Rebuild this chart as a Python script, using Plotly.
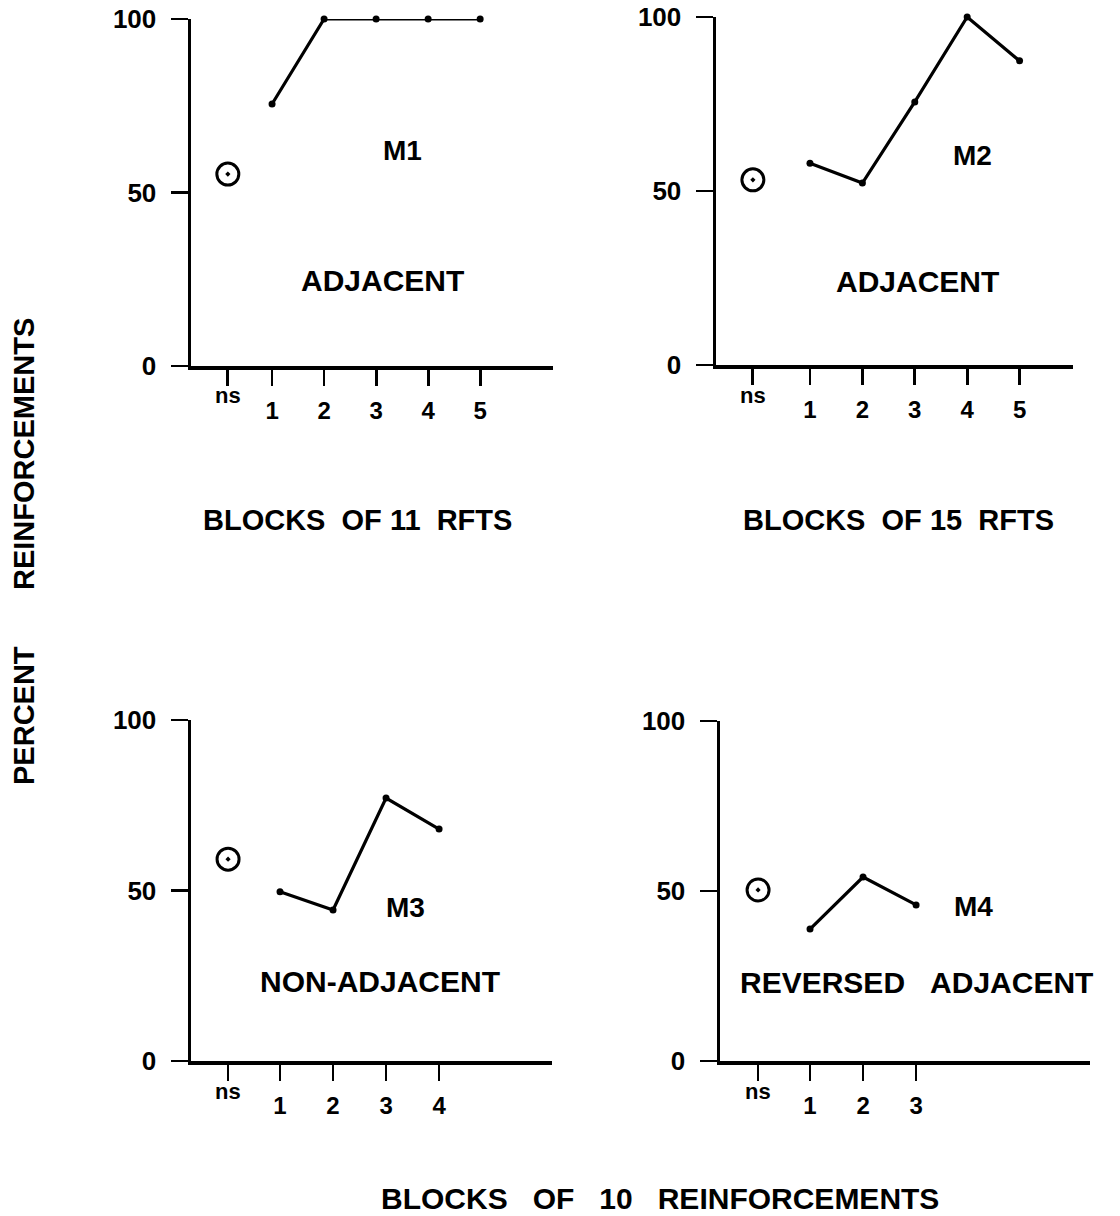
import plotly.graph_objects as go

OFF = 0  # body margin removed via post_script below
W, H = 1120, 1216
FONT = "Liberation Sans, Arial, sans-serif"

# ---------------- data ----------------
NS_LABEL = "ns"
Y_TICKS = [0, 50, 100]
Y_TICKTEXT = ["0", "50", "100"]

m1_blocks = [1, 2, 3, 4, 5]
m1_pct = [75.5, 100, 100, 100, 100]
m1_ns = 55.3

m2_blocks = [1, 2, 3, 4, 5]
m2_pct = [58.0, 52.3, 75.6, 100, 87.4]
m2_ns = 53.2

m3_blocks = [1, 2, 3, 4]
m3_pct = [49.6, 44.3, 77.1, 68.0]
m3_ns = 59.2

m4_blocks = [1, 2, 3]
m4_pct = [38.8, 54.1, 45.9]
m4_ns = 50.3

subjects = ["M1", "M2", "M3", "M4"]
conditions = ["ADJACENT", "ADJACENT", "NON-ADJACENT", "REVERSED\u00a0\u00a0\u00a0ADJACENT"]
ns_pos = [0.15, -0.09, 0.02, 0.02]
panel_titles = ["BLOCKS\u00a0\u00a0OF\u00a011\u00a0\u00a0RFTS", "BLOCKS\u00a0\u00a0OF\u00a015\u00a0\u00a0RFTS"]
bottom_title = "BLOCKS\u00a0\u00a0\u00a0OF\u00a0\u00a0\u00a010\u00a0\u00a0\u00a0REINFORCEMENTS"
y_title = "PERCENT\u00a0\u00a0\u00a0\u00a0\u00a0\u00a0\u00a0REINFORCEMENTS"

# label positions (data coords of each panel)
subject_xy = [(3.5, 62), (4.1, 60.3), (3.36, 45), (4.08, 45.3)]
condition_xy = [(3.13, 24.5), (3.05, 24), (2.89, 23.2), (3.0, 23)]

# ---------------- layout geometry (window pixels) ----------------
PANEL_BOX = [  # x-axis left px, right px, y px of 100, y px of 0
    (191, 553, 19, 366),
    (716, 1073, 17, 365),
    (191, 552, 720, 1061),
    (720, 1090, 721, 1061),
]
X_RANGE = [(-0.558, 6.40), (-0.794, 6.02), (-0.679, 6.13), (-0.698, 6.28)]


def px(x):
    return (x - OFF) / W


def py(y):
    return 1 - (y - OFF) / H


series = [
    (m1_blocks, m1_pct, m1_ns),
    (m2_blocks, m2_pct, m2_ns),
    (m3_blocks, m3_pct, m3_ns),
    (m4_blocks, m4_pct, m4_ns),
]

fig = go.Figure()
annotations = []
layout = {}


def tf(size):
    return dict(family=FONT, size=size, color="black", weight="bold")


for i, (blocks, pct, nsval) in enumerate(series):
    n = i + 1
    sfx = "" if n == 1 else str(n)
    l, r, t, b = PANEL_BOX[i]
    xa = dict(
        domain=[px(l), px(r)], range=list(X_RANGE[i]), anchor="y" + sfx,
        showline=True, linewidth=3.5, linecolor="black", mirror=False,
        ticks="outside", ticklen=16, tickwidth=2.8, tickcolor="black",
        tickvals=[ns_pos[i]] + blocks, ticktext=[""] + [str(v) for v in blocks],
        tickfont=tf(24), ticklabeloverflow="allow",
        ticklabelstandoff=5,
        showgrid=False, zeroline=False, fixedrange=True, automargin=False,
    )
    ya = dict(
        domain=[py(b), py(t)], range=[0, 100], anchor="x" + sfx,
        showline=True, linewidth=3.5, linecolor="black",
        ticks="outside", ticklen=17, tickwidth=2.8, tickcolor="black",
        tickvals=Y_TICKS, ticktext=Y_TICKTEXT,
        tickfont=tf(26), ticklabeloverflow="allow",
        ticklabelstandoff=9,
        showgrid=False, zeroline=False, fixedrange=True, automargin=False,
    )
    layout["xaxis" + sfx] = xa
    layout["yaxis" + sfx] = ya

    fig.add_trace(go.Scatter(
        x=blocks, y=pct, mode="lines+markers", xaxis="x" + sfx, yaxis="y" + sfx,
        line=dict(color="black", width=3.2), marker=dict(color="black", size=7),
        cliponaxis=False, showlegend=False, name=subjects[i],
    ))
    fig.add_trace(go.Scatter(
        x=[ns_pos[i]], y=[nsval], mode="markers", xaxis="x" + sfx, yaxis="y" + sfx,
        marker=dict(symbol="circle-open-dot", size=22, color="black", line=dict(width=3)),
        cliponaxis=False, showlegend=False, name=subjects[i] + " ns",
    ))

    annotations.append(dict(
        x=ns_pos[i], y=py(b + 30), xref="x" + sfx, yref="paper",
        xanchor="center", yanchor="middle",
        text=NS_LABEL, showarrow=False, font=tf(22),
    ))
    annotations.append(dict(
        x=subject_xy[i][0], y=subject_xy[i][1], xref="x" + sfx, yref="y" + sfx,
        xanchor="center", yanchor="middle",
        text=subjects[i], showarrow=False, font=tf(28),
    ))
    annotations.append(dict(
        x=condition_xy[i][0], y=condition_xy[i][1], xref="x" + sfx, yref="y" + sfx,
        xanchor="center", yanchor="middle",
        text=conditions[i], showarrow=False, font=tf(30),
    ))

# panel titles under top plots
for cx, txt in zip([357, 898], panel_titles):
    annotations.append(dict(
        x=px(cx), y=py(520), xref="paper", yref="paper", text=txt,
        xanchor="center", yanchor="middle",
        showarrow=False, font=tf(29),
    ))

annotations.append(dict(
    x=px(660), y=py(1198), xref="paper", yref="paper", text=bottom_title,
    xanchor="center", yanchor="middle",
    showarrow=False, font=tf(30),
))
annotations.append(dict(
    x=px(24), y=py(552), xref="paper", yref="paper", text=y_title,
    xanchor="center", yanchor="middle",
    textangle=-90, showarrow=False, font=tf(29),
))

fig.update_layout(
    width=W, height=H, margin=dict(l=0, r=0, t=0, b=0, pad=0, autoexpand=False),
    paper_bgcolor="white", plot_bgcolor="white",
    annotations=annotations, **layout,
)

fig.write_html(
    "out.html",
    config={"displayModeBar": False, "staticPlot": True},
    post_script="document.body.style.margin='0';",
)
